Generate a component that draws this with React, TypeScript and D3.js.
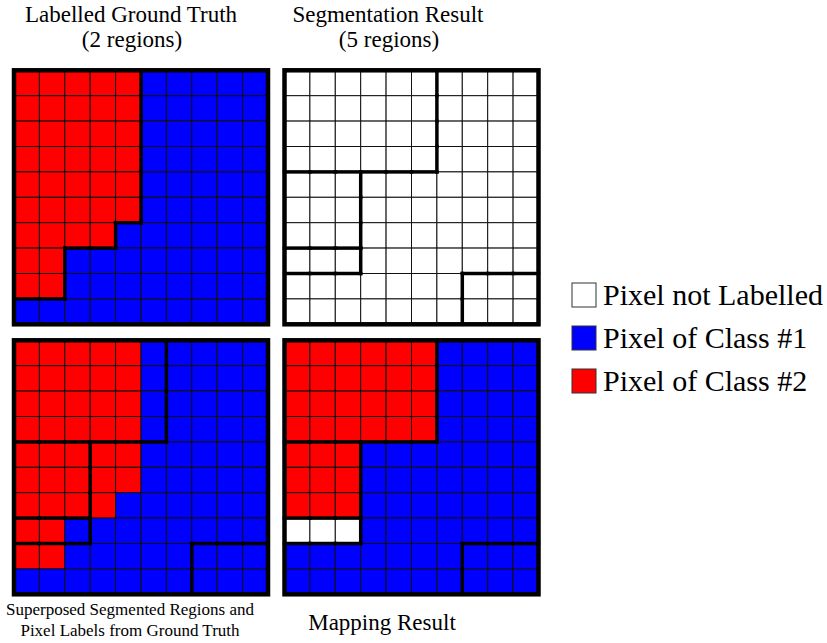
import React from "react";
import * as d3 from "d3";

// ground truth class of every pixel: 1 = class #1, 2 = class #2
const groundTruth = [
  "2222211111",
  "2222211111",
  "2222211111",
  "2222211111",
  "2222211111",
  "2222211111",
  "2222111111",
  "2211111111",
  "2211111111",
  "1111111111",
];

// segmentation region of every pixel
const segmentation = [
  "AAAAAAEEEE",
  "AAAAAAEEEE",
  "AAAAAAEEEE",
  "AAAAAAEEEE",
  "BBBEEEEEEE",
  "BBBEEEEEEE",
  "BBBEEEEEEE",
  "CCCEEEEEEE",
  "EEEEEEEDDD",
  "EEEEEEEDDD",
];

// class given to each segmented region after mapping (0 = not labelled)
const regionClass: Record<string, string> = { A: "2", B: "2", C: "0", D: "1", E: "1" };

const classColor: Record<string, string> = { "0": "#ffffff", "1": "#0000ff", "2": "#ff0000" };

const legendItems = [
  { label: "Pixel not Labelled", cls: "0" },
  { label: "Pixel of Class #1", cls: "1" },
  { label: "Pixel of Class #2", cls: "2" },
];

const N = 10;
const SIZE = 254;
const idx = d3.range(N);
const x = d3.scaleBand<number>().domain(idx).range([0, SIZE]);
const y = d3.scaleBand<number>().domain(idx).range([0, SIZE]);
const legendY = d3.scalePoint<string>().domain(legendItems.map((d) => d.cls)).range([283, 369]);

const FONT = "'Liberation Serif', 'Times New Roman', serif";

type PanelProps = {
  tx: number;
  ty: number;
  color: (r: number, c: number) => string;
  labels: string[];
};

const Panel = ({ tx, ty, color, labels }: PanelProps) => {
  const bw = x.bandwidth();
  const segs: [number, number, number, number][] = [];
  idx.forEach((r) => {
    idx.forEach((c) => {
      if (c < N - 1 && labels[r][c] !== labels[r][c + 1]) {
        segs.push([x(c)! + bw, y(r)!, x(c)! + bw, y(r)! + bw]);
      }
      if (r < N - 1 && labels[r][c] !== labels[r + 1][c]) {
        segs.push([x(c)!, y(r)! + bw, x(c)! + bw, y(r)! + bw]);
      }
    });
  });
  return (
    <g transform={`translate(${tx},${ty})`}>
      {idx.map((r) =>
        idx.map((c) => (
          <rect
            key={`${r}-${c}`}
            x={x(c)}
            y={y(r)}
            width={bw}
            height={y.bandwidth()}
            fill={color(r, c)}
            stroke="#111"
            strokeWidth={1}
          />
        ))
      )}
      {segs.map((s, i) => (
        <line
          key={i}
          x1={s[0]}
          y1={s[1]}
          x2={s[2]}
          y2={s[3]}
          stroke="#000"
          strokeWidth={3.5}
          strokeLinecap="square"
        />
      ))}
      <rect x={0} y={0} width={SIZE} height={SIZE} fill="none" stroke="#000" strokeWidth={4.5} />
    </g>
  );
};

export default function App() {
  const gtColor = (r: number, c: number) => classColor[groundTruth[r][c]];
  const white = () => "#ffffff";
  const mapColor = (r: number, c: number) => classColor[regionClass[segmentation[r][c]]];

  return (
    <svg
      width={827}
      height={643}
      style={{ position: "absolute", left: 0, top: 0, background: "#fff" }}
      fontFamily={FONT}
    >
      <rect width={827} height={643} fill="#fff" />
      <text x={131} y={22} fontSize={23} textAnchor="middle">Labelled Ground Truth</text>
      <text x={132} y={47} fontSize={23} textAnchor="middle">(2 regions)</text>
      <text x={388} y={22} fontSize={23} textAnchor="middle">Segmentation Result</text>
      <text x={389} y={47} fontSize={23} textAnchor="middle">(5 regions)</text>

      <Panel tx={14} ty={70.3} color={gtColor} labels={groundTruth} />
      <Panel tx={284.5} ty={70.3} color={white} labels={segmentation} />
      <Panel tx={14} ty={340.3} color={gtColor} labels={segmentation} />
      <Panel tx={284.5} ty={340.3} color={mapColor} labels={segmentation} />

      <text x={130} y={614.5} fontSize={17} textAnchor="middle">Superposed Segmented Regions and</text>
      <text x={130} y={635.5} fontSize={17} textAnchor="middle">Pixel Labels from Ground Truth</text>
      <text x={382} y={630} fontSize={23} textAnchor="middle">Mapping Result</text>

      {legendItems.map((d) => (
        <g key={d.cls}>
          <rect
            x={572}
            y={legendY(d.cls)}
            width={24}
            height={24}
            fill={classColor[d.cls]}
            stroke="#333"
            strokeWidth={1}
          />
          <text x={603} y={legendY(d.cls)! + 22} fontSize={30}>{d.label}</text>
        </g>
      ))}
    </svg>
  );
}
